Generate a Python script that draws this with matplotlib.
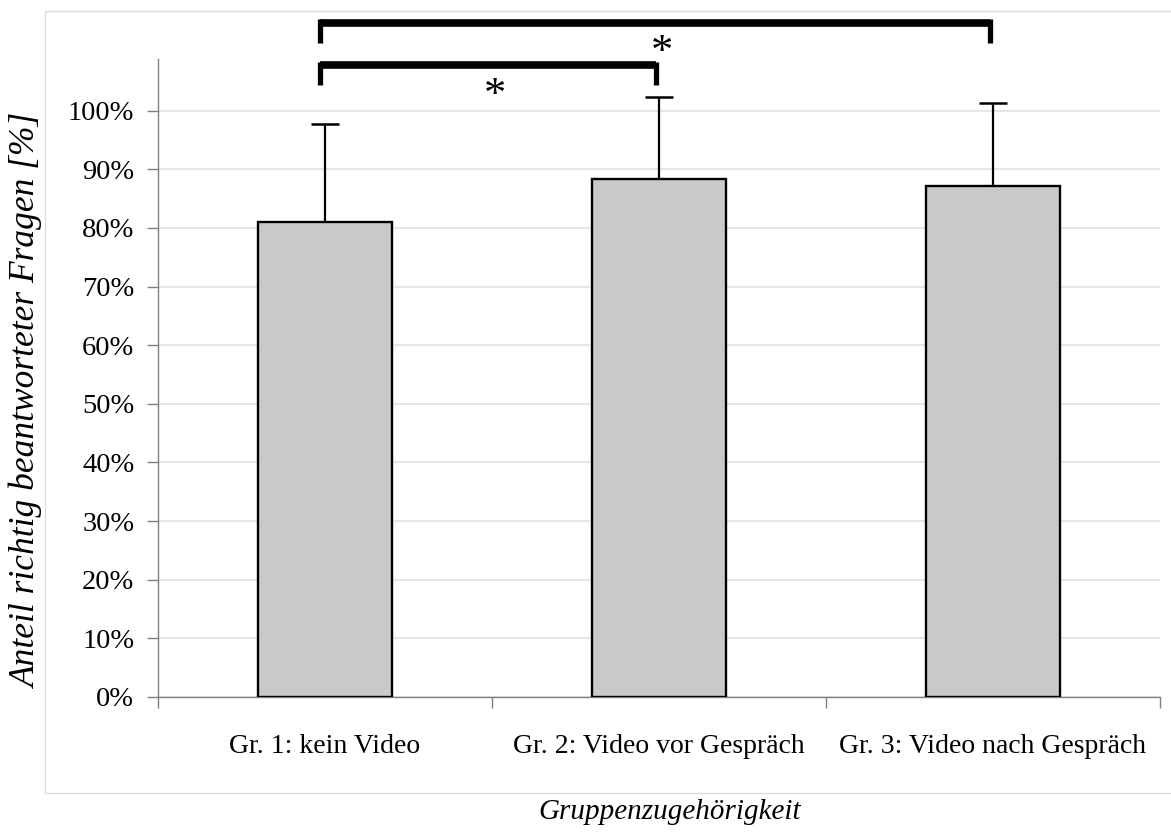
"""
    Gruppenvergleich: Anteil richtig beantworteter Fragen
    bar chart with error bars and significance brackets
"""
import matplotlib
matplotlib.use("Agg")
import matplotlib.pyplot as plt
from matplotlib.patches import Rectangle
from matplotlib.ticker import FixedLocator, PercentFormatter

groups = ["Gr. 1: kein Video", "Gr. 2: Video vor Gespräch", "Gr. 3: Video nach Gespräch"]
means = [81.0, 88.3, 87.2]
sd = [16.7, 14.0, 14.1]
yticks = [0, 10, 20, 30, 40, 50, 60, 70, 80, 90, 100]

# significance: (group a, group b, bracket height, leg bottom)
comparisons = [(0, 1, 107.7, 104.3), (0, 2, 115.0, 111.6)]
stars = [(0.51, 102.5), (1.01, 109.8)]

plt.rcParams['font.family'] = ['Liberation Serif', 'DejaVu Serif']


def draw_chart():
    fig = plt.figure(figsize=(11.71, 8.32), dpi=100)
    ax = fig.add_axes([0.1349, 0.1623, 0.8557, 0.7668])

    # light frame of chart area
    fig.patches.append(Rectangle((0.0384, 0.0469), 1.0, 0.94, transform=fig.transFigure,
                                 fill=False, edgecolor='#dcdcdc', linewidth=1, zorder=0))

    x = list(range(len(groups)))
    ax.errorbar(x, means, yerr=[[0] * len(sd), sd], fmt='none', ecolor='black',
                elinewidth=1.6, capsize=10, capthick=1.8, zorder=2)
    ax.bar(x, means, width=0.4, color='#c9c9c9', edgecolor='black', linewidth=1.7, zorder=3)

    ax.set_xlim(-0.5, 2.5)
    ax.set_ylim(0, 108.8)
    ax.yaxis.set_major_locator(FixedLocator(yticks))
    ax.yaxis.set_major_formatter(PercentFormatter(decimals=0))
    ax.grid(axis='y', color='#e2e2e2', linewidth=1.2, zorder=0)
    ax.set_axisbelow(True)

    ax.set_xticks([-0.5, 0.5, 1.5, 2.5])
    ax.set_xticklabels([])
    ax.set_xticks(x, minor=True)
    ax.set_xticklabels(groups, minor=True)
    ax.tick_params(axis='x', which='minor', length=0, pad=27, labelsize=20)
    ax.tick_params(axis='x', which='major', length=8, width=1, color='#808080', direction='out')
    ax.tick_params(axis='y', length=8, width=1, color='#808080', pad=9, labelsize=20.5)

    for s in ['top', 'right']:
        ax.spines[s].set_visible(False)
    for s in ['left', 'bottom']:
        ax.spines[s].set_color('#808080')
        ax.spines[s].set_linewidth(1)

    for a, b, top, bottom in comparisons:
        xa, xb = a - 0.015, b - 0.01
        ax.plot([xa, xb], [top, top], color='black', linewidth=5.5, solid_capstyle='butt',
                clip_on=False, zorder=5)
        ax.plot([xa, xa], [bottom, top + 0.6], color='black', linewidth=3.8,
                solid_capstyle='butt', clip_on=False, zorder=5)
        ax.plot([xb, xb], [bottom, top + 0.6], color='black', linewidth=3.8,
                solid_capstyle='butt', clip_on=False, zorder=5)

    for sx, sy in stars:
        ax.text(sx, sy, '*', fontsize=32, ha='center', va='center', clip_on=False)

    fig.text(27 / 1171, 1 - 400 / 832, 'Anteil richtig beantworteter Fragen [%]',
             rotation=90, ha='center', va='center', fontsize=25.5, style='italic')
    fig.text(670 / 1171, 1 - 812 / 832, 'Gruppenzugehörigkeit',
             ha='center', va='center', fontsize=21, style='italic')

    fig.savefig('out.png', dpi=100)


def main():
    draw_chart()


if __name__ == '__main__':
    main()
